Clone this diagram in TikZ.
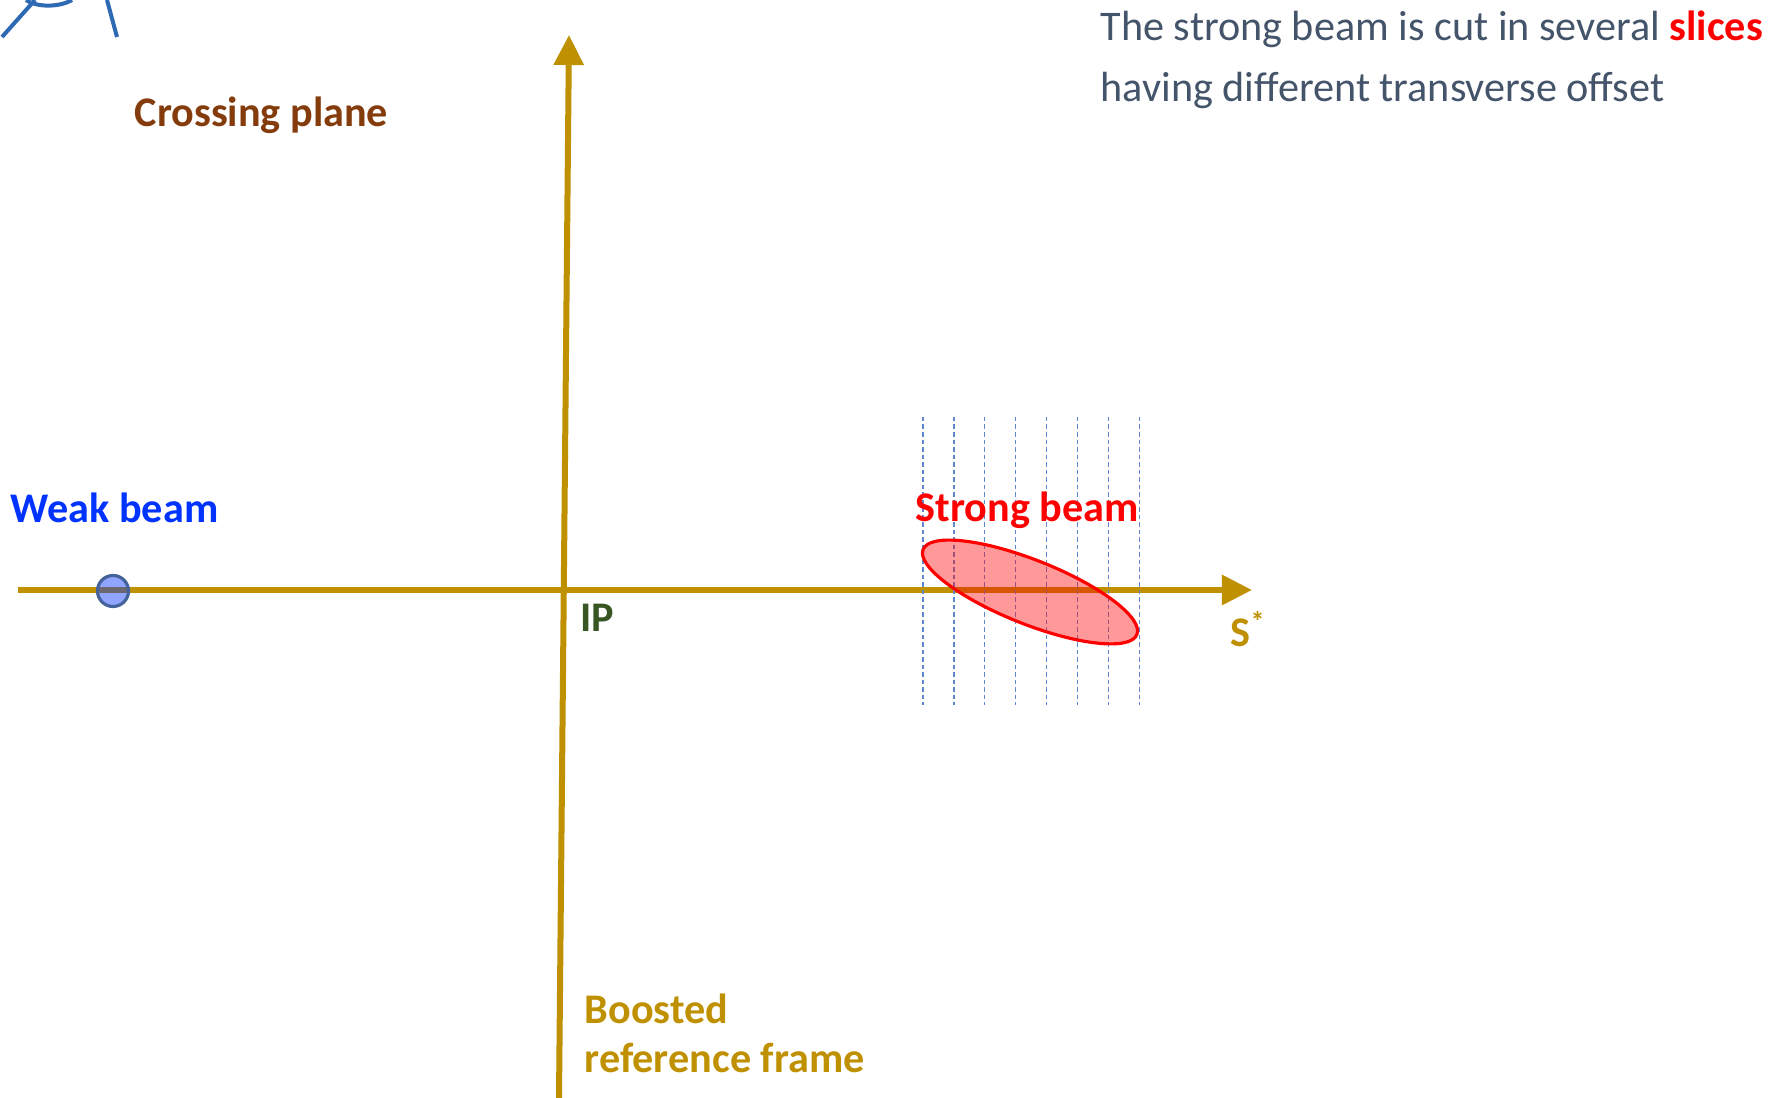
\documentclass[tikz,border=0pt]{standalone}
\usepackage{fontspec}
\setmainfont{Carlito}
\usepackage{xcolor}
\usepackage{tikz}
\usetikzlibrary{positioning,arrows.meta,shapes.geometric}
\definecolor{axisgold}{HTML}{BF9000}
\definecolor{planebrown}{HTML}{843C0C}
\definecolor{weakblue}{HTML}{0033FF}
\definecolor{ipgreen}{HTML}{375623}
\definecolor{notegray}{HTML}{44546A}
\definecolor{sliceblue}{HTML}{4472C4}
\definecolor{edgeblue}{HTML}{2F528F}
\definecolor{cornerblue}{HTML}{2E69B3}

\begin{document}
\begin{tikzpicture}[x=0.01cm,y=-0.01cm,
  lbl/.style={inner sep=0pt,anchor=base west,font=\fontsize{12}{14.2}\selectfont\bfseries},
  note/.style={inner sep=0pt,anchor=base west,align=left,text=notegray,
               font=\fontsize{12}{17.6}\selectfont},
  axis/.style={axisgold,line width=0.06cm,
               -{Triangle[length=0.3cm,width=0.29cm]}},
  slice/.style={sliceblue!85,line width=0.35pt,dash pattern=on 0.45mm off 0.3mm},
  weak/.style={circle,minimum size=0.31cm,inner sep=0pt,draw=edgeblue!90,
               line width=0.9pt,fill=weakblue,fill opacity=0.44,draw opacity=1},
  strong/.style={ellipse,minimum width=2.3cm,minimum height=0.64cm,inner sep=0pt,
                 draw=red,line width=0.9pt,fill=red,fill opacity=0.4,draw opacity=1},
  corner/.style={cornerblue,line width=0.04cm}
]
  \clip (0,0) rectangle (1775,1098);
  % cut-off sketch in the corner
  \draw[corner] (2,37) -- (35,0);
  \draw[corner] (26,0) .. controls (38,8) and (60,7) .. (72,0);
  \draw[corner] (107,0) -- (117,37);

  % axes of the boosted frame
  \coordinate (sstart) at (18,590);
  \coordinate (send) at (1252,590);
  \coordinate (xbottom) at (559,1098);
  \coordinate (xtop) at (569,35);
  \draw[axis] (sstart) -- (send);
  \draw[axis] (xbottom) -- (xtop);

  % slices of the strong beam
  \foreach \i in {0,...,7}
    \draw[slice] (923+30.9*\i,417) -- (923+30.9*\i,705);

  \node[weak] (weakbunch) at (113,591) {};
  \node[strong,rotate=-21.7] (strongbunch) at (1030,592) {};

  \node[lbl,text=planebrown] (plane) at (134,127) {Crossing plane};
  \node[lbl,text=weakblue] (weaklbl) at (10,523) {Weak beam};
  \node[lbl,text=red] (stronglbl) at (915,522) {Strong beam};
  \node[lbl,text=ipgreen] (ip) at (580,632) {IP};
  \node[lbl,text=axisgold] (slbl) at (1230,647) {S\textsuperscript{*}};
  % multi-line nodes: base is the last line
  \node[lbl,text=axisgold,align=left] (frame) at (584,1073)
    {Boosted\\reference frame};
  \node[note] (info) at (1100,102)
    {The strong beam is cut in several \textbf{\color{red}slices}\\
     having different transverse offset};
\end{tikzpicture}
\end{document}
